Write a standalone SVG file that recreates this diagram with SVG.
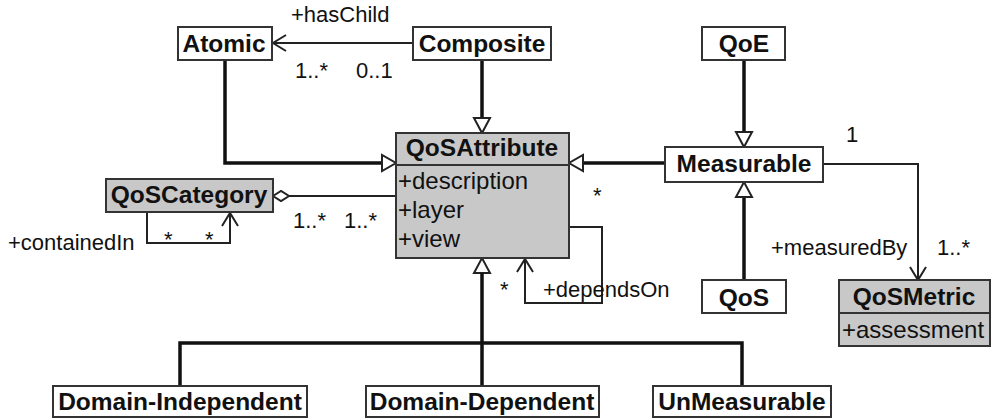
<svg xmlns="http://www.w3.org/2000/svg" width="993" height="420" viewBox="0 0 993 420">
<style>
.box{fill:#fff;stroke:#333;stroke-width:2}
.gbox{fill:#c8c8c8;stroke:#333;stroke-width:2}
.b{font-family:"Liberation Sans",Arial,sans-serif;font-weight:bold;font-size:24.5px;fill:#111}
.t{font-family:"Liberation Sans",Arial,sans-serif;font-size:22px;fill:#111}
.a{font-family:"Liberation Sans",Arial,sans-serif;font-size:24px;fill:#111}
.thick{fill:none;stroke:#111;stroke-width:3.5}
.thin{fill:none;stroke:#222;stroke-width:2}
.tri{fill:#fff;stroke:#222;stroke-width:2}
</style>
<rect width="993" height="420" fill="#fff"/>
<g id="connectors">
  <!-- hasChild -->
  <path class="thin" d="M413,43 H273"/>
  <path class="thin" d="M286,35 L273,43 L286,51"/>
  <text class="t" x="291" y="22">+hasChild</text>
  <text class="t" x="295" y="78">1..*</text>
  <text class="t" x="356" y="78">0..1</text>
  <!-- Composite generalization -->
  <path class="thick" d="M482,60 V118"/>
  <polygon class="tri" points="474,118 490,118 482,133"/>
  <!-- Atomic generalization -->
  <path class="thick" d="M225,60 V163 H382"/>
  <polygon class="tri" points="382,155 382,171 396,163"/>
  <!-- Measurable generalization to QoSAttribute -->
  <path class="thick" d="M665,163 H583"/>
  <polygon class="tri" points="583,155 583,171 569,163"/>
  <!-- QoE -> Measurable -->
  <path class="thick" d="M744,60 V132"/>
  <polygon class="tri" points="736,132 752,132 744,147"/>
  <!-- QoS -> Measurable -->
  <path class="thick" d="M744,280 V197"/>
  <polygon class="tri" points="736,197 752,197 744,182"/>
  <!-- measuredBy -->
  <path class="thin" d="M823,164 H918 V280"/>
  <path class="thin" d="M910,267 L918,280 L926,267"/>
  <text class="t" x="846" y="142">1</text>
  <text class="t" x="771" y="255">+measuredBy</text>
  <text class="t" x="937" y="255">1..*</text>
  <!-- QoSCategory aggregation -->
  <path class="thin" d="M289,196 H396"/>
  <polygon class="tri" points="273,196 281,191 289,196 281,201"/>
  <text class="t" x="293" y="228">1..*</text>
  <text class="t" x="344" y="228">1..*</text>
  <!-- containedIn loop -->
  <path class="thin" d="M147,212 V243 H230 V213"/>
  <path class="thin" d="M222,226 L230,213 L238,226"/>
  <text class="t" x="164" y="247">*</text>
  <text class="t" x="205" y="247">*</text>
  <text class="t" x="8" y="250">+containedIn</text>
  <!-- dependsOn loop -->
  <path class="thin" d="M569,227 H602 V303 H525 V259"/>
  <path class="thin" d="M517,272 L525,259 L533,272"/>
  <text class="t" x="500" y="297">*</text>
  <text class="t" x="593" y="203">*</text>
  <text class="t" x="543" y="297">+dependsOn</text>
  <!-- bottom generalization -->
  <polygon class="tri" points="474,273 490,273 482,258"/>
  <path class="thick" d="M482,273 V386 M180,386 V343 H742 V386"/>
</g>
<g id="Atomic"><rect class="box" x="178" y="27" width="94" height="33"/><text class="b" x="224" y="52" text-anchor="middle">Atomic</text></g>
<g id="Composite"><rect class="box" x="413" y="27" width="138" height="33"/><text class="b" x="482" y="52" text-anchor="middle">Composite</text></g>
<g id="QoE"><rect class="box" x="702" y="27" width="83" height="33"/><text class="b" x="744" y="52" text-anchor="middle">QoE</text></g>
<g id="QoSAttribute"><rect class="gbox" x="396" y="133" width="173" height="125"/><line x1="396" y1="165" x2="569" y2="165" stroke="#333" stroke-width="2"/>
<text class="b" x="482" y="156" text-anchor="middle">QoSAttribute</text>
<text class="a" x="398" y="189">+description</text>
<text class="a" x="398" y="218">+layer</text>
<text class="a" x="398" y="247">+view</text></g>
<g id="Measurable"><rect class="box" x="665" y="147" width="158" height="35"/><text class="b" x="744" y="172" text-anchor="middle">Measurable</text></g>
<g id="QoSCategory"><rect class="gbox" x="106" y="179" width="167" height="33"/><text class="b" x="189" y="203" text-anchor="middle">QoSCategory</text></g>
<g id="QoS"><rect class="box" x="702" y="280" width="84" height="33"/><text class="b" x="744" y="306" text-anchor="middle">QoS</text></g>
<g id="QoSMetric"><rect class="gbox" x="839" y="280" width="151" height="66"/><line x1="839" y1="313" x2="990" y2="313" stroke="#333" stroke-width="2"/>
<text class="b" x="914" y="305" text-anchor="middle">QoSMetric</text>
<text class="a" x="842" y="338">+assessment</text></g>
<g id="DomainIndependent"><rect class="box" x="53" y="386" width="254" height="31"/><text class="b" x="180" y="410" text-anchor="middle">Domain-Independent</text></g>
<g id="DomainDependent"><rect class="box" x="366" y="386" width="233" height="31"/><text class="b" x="482" y="410" text-anchor="middle">Domain-Dependent</text></g>
<g id="UnMeasurable"><rect class="box" x="653" y="386" width="178" height="31"/><text class="b" x="742" y="410" text-anchor="middle">UnMeasurable</text></g>
</svg>
